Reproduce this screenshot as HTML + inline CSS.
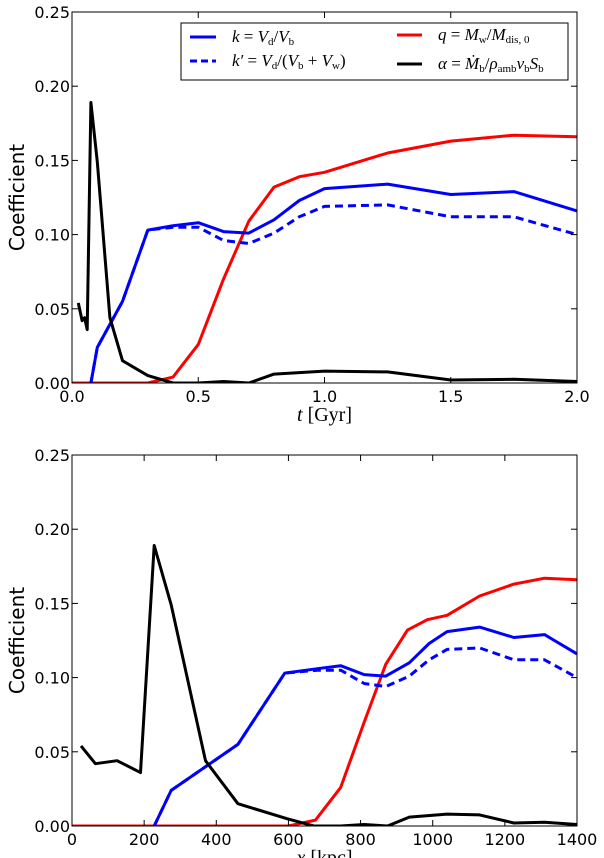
<!DOCTYPE html>
<html><head><meta charset="utf-8"><style>
body{margin:0;background:#fff;}
svg{display:block;font-family:"DejaVu Sans","Liberation Sans",sans-serif;}
</style></head><body>
<svg id="fig" width="604" height="858"></svg>
<script>
// ---- top panel data (t in Gyr) ----
const kT_x=[0.075,0.1,0.2,0.3,0.4,0.5,0.6,0.7,0.8,0.9,1.0,1.25,1.5,1.75,2.0];
const kT_y=[0,0.024,0.055,0.103,0.106,0.108,0.102,0.101,0.110,0.123,0.131,0.134,0.127,0.129,0.116];
const kpT_y=[0,0.024,0.055,0.103,0.105,0.105,0.096,0.094,0.101,0.112,0.119,0.120,0.112,0.112,0.100];
const qT_x=[0,0.3,0.4,0.5,0.6,0.7,0.8,0.9,1.0,1.25,1.5,1.75,2.0];
const qT_y=[0,0,0.004,0.026,0.07,0.109,0.132,0.139,0.142,0.155,0.163,0.167,0.166];
const aT_x=[0.025,0.04,0.05,0.06,0.075,0.1,0.15,0.2,0.3,0.4,0.5,0.6,0.7,0.8,1.0,1.25,1.5,1.75,2.0];
const aT_y=[0.054,0.042,0.044,0.036,0.189,0.149,0.044,0.015,0.005,0.0,0.0,0.001,0.0,0.006,0.008,0.0075,0.002,0.0025,0.001];
const xTicksT=["0.0","0.5","1.0","1.5","2.0"];
const xTickValsT=[0,0.5,1.0,1.5,2.0];
// ---- bottom panel data (x in kpc) ----
const kB_x=[228,275,460,590,680,745,810,870,935,990,1040,1130,1225,1310,1400];
const kB_y=[0,0.024,0.055,0.103,0.106,0.108,0.102,0.101,0.110,0.123,0.131,0.134,0.127,0.129,0.116];
const kpB_y=[0,0.024,0.055,0.103,0.105,0.105,0.096,0.094,0.101,0.112,0.119,0.120,0.112,0.112,0.100];
const qB_x=[0,600,675,745,810,870,930,985,1040,1130,1225,1310,1400];
const qB_y=[0,0,0.004,0.026,0.07,0.109,0.132,0.139,0.142,0.155,0.163,0.167,0.166];
const aB_x=[25,65,125,190,228,275,370,460,595,670,745,810,875,935,1040,1130,1225,1310,1400];
const aB_y=[0.054,0.042,0.044,0.036,0.189,0.149,0.044,0.015,0.005,0,0,0.001,0,0.006,0.008,0.0075,0.002,0.0025,0.001];
const xTicksB=["0","200","400","600","800","1000","1200","1400"];
const xTickValsB=[0,200,400,600,800,1000,1200,1400];
const yTicks=["0.00","0.05","0.10","0.15","0.20","0.25"];
const yTickVals=[0,0.05,0.10,0.15,0.20,0.25];

const NS="http://www.w3.org/2000/svg";
const svg=document.getElementById('fig');
function mk(tag,attrs,parent){const e=document.createElementNS(NS,tag);for(const k in attrs)e.setAttribute(k,attrs[k]);(parent||svg).appendChild(e);return e;}

function panel(name,top,bot,xmax,xVals,xLabs,series,xlabel){
  const L=72,R=577;
  const g=mk('g',{});
  
  
  const sx=v=>L+(v/xmax)*(R-L);
  const sy=v=>bot-(v/0.25)*(bot-top);
  const clipId=name+'-clip';
  const cp=mk('clipPath',{id:clipId},g);mk('rect',{x:L,y:top,width:R-L,height:bot-top},cp);
  for(const s of series){
    const pts=s.x.map((xv,i)=>sx(xv).toFixed(1)+','+sy(s.y[i]).toFixed(1)).join(' ');
    const pl=mk('polyline',{points:pts,fill:'none',stroke:s.c,'stroke-width':3,'stroke-linejoin':'round','clip-path':'url(#'+clipId+')'},g);
    if(s.dash)pl.setAttribute('stroke-dasharray','8,5');
    
    
  }
  const fr=mk('rect',{x:L,y:top,width:R-L,height:bot-top,fill:'none',stroke:'#000','stroke-width':1},g);
  
  
  xVals.forEach((v,i)=>{
    const x=sx(v);
    mk('line',{x1:x,x2:x,y1:bot,y2:bot-6,stroke:'#000'},g);
    mk('line',{x1:x,x2:x,y1:top,y2:top+6,stroke:'#000'},g);
    const t=mk('text',{x:x,y:bot+19,'text-anchor':'middle','font-size':16},g);
    t.textContent=xLabs[i];
    
    
  });
  yTickVals.forEach((v,i)=>{
    const y=sy(v);
    mk('line',{x1:L,x2:L+6,y1:y,y2:y,stroke:'#000'},g);
    mk('line',{x1:R,x2:R-6,y1:y,y2:y,stroke:'#000'},g);
    const t=mk('text',{x:L-2,y:y+6,'text-anchor':'end','font-size':16},g);
    t.textContent=yTicks[i];
    
    
  });
  const yl=mk('text',{x:0,y:0,'font-size':20,'text-anchor':'middle',transform:`translate(24,${(top+bot)/2}) rotate(-90)`},g);
  yl.textContent='Coefficient';
  
  
  const xl=mk('text',{x:(L+R)/2,y:bot+38,'text-anchor':'middle','font-size':20,'font-family':'Liberation Serif, serif'},g);
  xl.innerHTML=xlabel;
  
  
  return g;
}
const cols={k:'#0000ff',q:'#ff0000',a:'#000'};
panel('top-panel',12,383,2.0,xTickValsT,xTicksT,[
 {x:qT_x,y:qT_y,c:cols.q,n:'q-line'},
 {x:kT_x,y:kpT_y,c:cols.k,dash:1,n:'kprime-line'},
 {x:kT_x,y:kT_y,c:cols.k,n:'k-line'},
 {x:aT_x,y:aT_y,c:cols.a,n:'alpha-line'}],
 '<tspan font-style="italic">t</tspan> [Gyr]');
panel('bottom-panel',455,826,1400,xTickValsB,xTicksB,[
 {x:qB_x,y:qB_y,c:cols.q,n:'q-line'},
 {x:kB_x,y:kpB_y,c:cols.k,dash:1,n:'kprime-line'},
 {x:kB_x,y:kB_y,c:cols.k,n:'k-line'},
 {x:aB_x,y:aB_y,c:cols.a,n:'alpha-line'}],
 '<tspan font-style="italic">x</tspan> [kpc]');
</script>
<svg style="position:absolute;left:0;top:0" width="604" height="100">
 <g font-family="Liberation Serif, serif" font-size="17">
  <rect x="181" y="23" width="387" height="57" fill="#fff" stroke="#000" stroke-width="1"/>
  <g><line x1="190" x2="216" y1="37" y2="37" stroke="#00f" stroke-width="3"/><text x="232" y="42"><tspan font-style="italic">k</tspan> = <tspan font-style="italic">V</tspan><tspan font-size="11" dy="3">d</tspan><tspan dy="-3">/</tspan><tspan font-style="italic">V</tspan><tspan font-size="11" dy="3">b</tspan></text></g>
  <g><line x1="190" x2="216" y1="61" y2="61" stroke="#00f" stroke-width="3" stroke-dasharray="7,4"/><text x="232" y="66"><tspan font-style="italic">k′</tspan> = <tspan font-style="italic">V</tspan><tspan font-size="11" dy="3">d</tspan><tspan dy="-3">/(</tspan><tspan font-style="italic">V</tspan><tspan font-size="11" dy="3">b</tspan><tspan dy="-3"> + </tspan><tspan font-style="italic">V</tspan><tspan font-size="11" dy="3">w</tspan><tspan dy="-3">)</tspan></text></g>
  <g><line x1="397" x2="422" y1="35" y2="35" stroke="#f00" stroke-width="3"/><text x="438" y="40"><tspan font-style="italic">q</tspan> = <tspan font-style="italic">M</tspan><tspan font-size="11" dy="3">w</tspan><tspan dy="-3">/</tspan><tspan font-style="italic">M</tspan><tspan font-size="11" dy="3">dis, 0</tspan></text></g>
  <g><line x1="397" x2="422" y1="64" y2="64" stroke="#000" stroke-width="3"/><text x="438" y="69"><tspan font-style="italic">α</tspan> = <tspan font-style="italic">Ṁ</tspan><tspan font-size="11" dy="3">b</tspan><tspan dy="-3">/</tspan><tspan font-style="italic">ρ</tspan><tspan font-size="11" dy="3">amb</tspan><tspan dy="-3" font-style="italic">v</tspan><tspan font-size="11" dy="3">b</tspan><tspan dy="-3" font-style="italic">S</tspan><tspan font-size="11" dy="3">b</tspan></text></g>
 </g>
</svg>
</body></html>
